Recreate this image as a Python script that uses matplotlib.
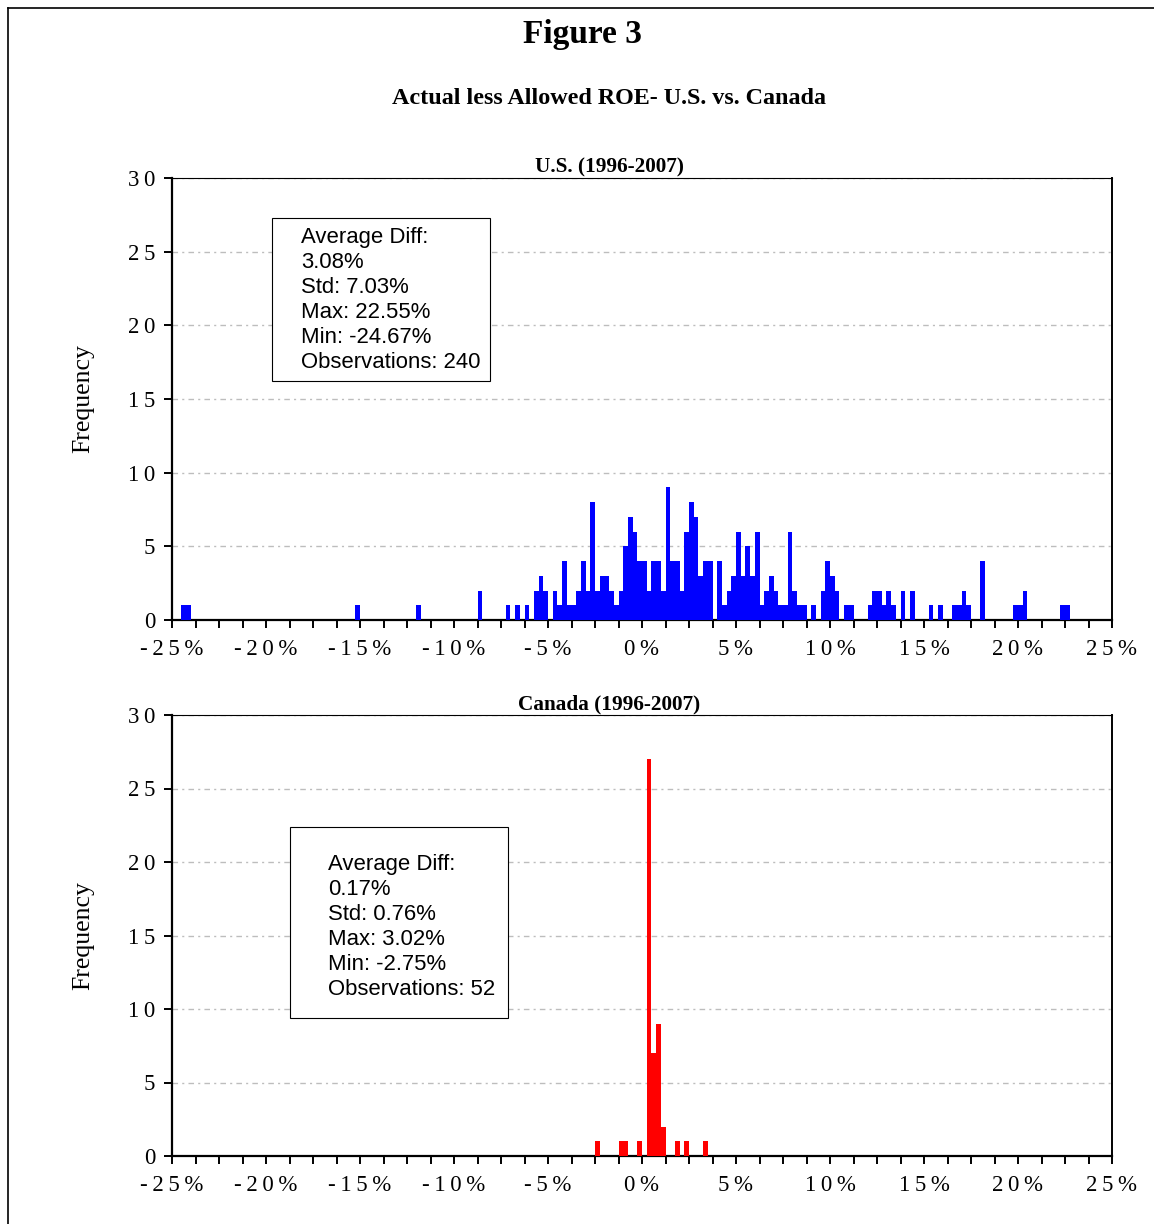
import numpy as np
import matplotlib
matplotlib.use("Agg")
import matplotlib.pyplot as plt
from matplotlib.patches import Rectangle
from matplotlib.lines import Line2D

plt.rcParams["font.family"] = ["Liberation Serif", "DejaVu Serif"]

W, H = 1154, 1224
BIN = 0.25
THIN = "\u2009"

# bin midpoints (percent) and counts
us_mid = [-24.375, -24.125, -15.125, -11.875, -8.625, -7.125, -6.625, -6.125,
          -5.625, -5.375, -5.125, -4.625, -4.375, -4.125, -3.875, -3.625,
          -3.375, -3.125, -2.875, -2.625, -2.375, -2.125, -1.875, -1.625,
          -1.375, -1.125, -0.875, -0.625, -0.375, -0.125, 0.125, 0.375,
          0.625, 0.875, 1.125, 1.375, 1.625, 1.875, 2.125, 2.375,
          2.625, 2.875, 3.125, 3.375, 3.625, 4.125, 4.375, 4.625,
          4.875, 5.125, 5.375, 5.625, 5.875, 6.125, 6.375, 6.625,
          6.875, 7.125, 7.375, 7.625, 7.875, 8.125, 8.375, 8.625,
          9.125, 9.625, 9.875, 10.125, 10.375, 10.875, 11.125, 12.125,
          12.375, 12.625, 12.875, 13.125, 13.375, 13.875, 14.375, 15.375,
          15.875, 16.625, 16.875, 17.125, 17.375, 18.125, 19.875, 20.125,
          20.375, 22.375, 22.625]
us_count = [1, 1, 1, 1, 2, 1, 1, 1,
            2, 3, 2, 2, 1, 4, 1, 1,
            2, 4, 2, 8, 2, 3, 3, 2,
            1, 2, 5, 7, 6, 4, 4, 2,
            4, 4, 2, 9, 4, 4, 2, 6,
            8, 7, 3, 4, 4, 4, 1, 2,
            3, 6, 3, 5, 3, 6, 1, 2,
            3, 2, 1, 1, 6, 2, 1, 1,
            1, 2, 4, 3, 2, 1, 1, 1,
            2, 2, 1, 2, 1, 2, 2, 1,
            1, 1, 1, 2, 1, 4, 1, 1,
            2, 1, 1]

ca_mid = [-2.375, -1.125, -0.875, -0.125, 0.375, 0.625, 0.875, 1.125,
          1.875, 2.375, 3.375]
ca_count = [1, 1, 1, 1, 27, 7, 9, 2, 1, 1, 1]

us_stats = ["Average Diff:", "3.08%", "Std: 7.03%", "Max: 22.55%",
            "Min: -24.67%", "Observations: 240"]
ca_stats = ["Average Diff:", "0.17%", "Std: 0.76%", "Max: 3.02%",
            "Min: -2.75%", "Observations: 52"]

x_major = np.arange(-25, 26, 5)
y_major = np.arange(0, 31, 5)


def spaced(s):
    return THIN.join(s)


def fx(px):
    return px / W


def fy(py):
    return 1 - py / H


def panel(fig, box, mids, counts, color, title, stats, stats_box, text_xy):
    l, t, r, b = box
    ax = fig.add_axes([fx(l), fy(b), (r - l) / W, (b - t) / H])
    ax.bar(mids, counts, width=BIN, color=color, edgecolor="none",
           linewidth=0, zorder=3)

    ax.set_xlim(-25, 25)
    ax.set_ylim(0, 30)
    ax.set_xticks(x_major)
    ax.set_xticklabels([spaced(f"{v}%") for v in x_major])
    ax.set_xticks(np.arange(-25, 25.01, 1.25), minor=True)
    ax.set_yticks(y_major)
    ax.set_yticklabels([spaced(str(v)) for v in y_major])
    ax.tick_params(axis="x", which="both", direction="out", length=6,
                   width=1.4, labelsize=16.5, pad=7.5)
    ax.tick_params(axis="y", direction="out", length=6, width=1.4,
                   labelsize=16.5, pad=6)

    ax.yaxis.grid(True, color="#bdbdbd", linewidth=1.0,
                  linestyle=(0, (4, 3, 1.5, 3)))
    ax.set_axisbelow(True)
    ax.spines["left"].set_linewidth(1.6)
    ax.spines["bottom"].set_linewidth(1.6)
    ax.spines["top"].set_linewidth(0.8)
    ax.spines["right"].set_linewidth(1.4)

    ax.set_ylabel("Frequency", fontsize=18.5)
    ax.yaxis.set_label_coords((94 - l) / (r - l), 0.5)

    fig.text(fx(609), fy(t - 11), title, ha="center", va="center",
             fontsize=15.3, fontweight="bold")

    bl, bt, br, bb = stats_box
    fig.add_artist(Rectangle((fx(bl), fy(bb)), (br - bl) / W, (bb - bt) / H,
                             transform=fig.transFigure, facecolor="white",
                             edgecolor="black", linewidth=0.8))
    fig.text(fx(text_xy[0]), fy(text_xy[1]), "\n".join(stats),
             ha="left", va="center", fontsize=15.9, linespacing=1.25,
             family=["Liberation Sans", "DejaVu Sans"])
    return ax


def main():
    fig = plt.figure(figsize=(W / 100, H / 100), dpi=100)

    # outer frame (right/bottom edges fall outside the picture)
    fig.add_artist(Line2D([fx(8), fx(8)], [fy(8), 0], color="black",
                          linewidth=1.2, transform=fig.transFigure))
    fig.add_artist(Line2D([fx(8), 1], [fy(8), fy(8)], color="black",
                          linewidth=1.2, transform=fig.transFigure))

    fig.text(fx(582), fy(35), "Figure 3", ha="center", va="center",
             fontsize=24, fontweight="bold")
    fig.text(fx(609), fy(99), "Actual less Allowed ROE- U.S. vs. Canada",
             ha="center", va="center", fontsize=17.4, fontweight="bold")

    panel(fig, (172, 178, 1112, 620), us_mid, us_count, "#0000ff",
          "U.S. (1996-2007)", us_stats, (272, 218, 490, 381), (301, 300))
    panel(fig, (172, 715, 1112, 1156), ca_mid, ca_count, "#ff0000",
          "Canada (1996-2007)", ca_stats, (290, 827, 508, 1018), (328, 927))

    fig.savefig("out.png", dpi=100, facecolor="white")
    plt.close(fig)


if __name__ == "__main__":
    main()
